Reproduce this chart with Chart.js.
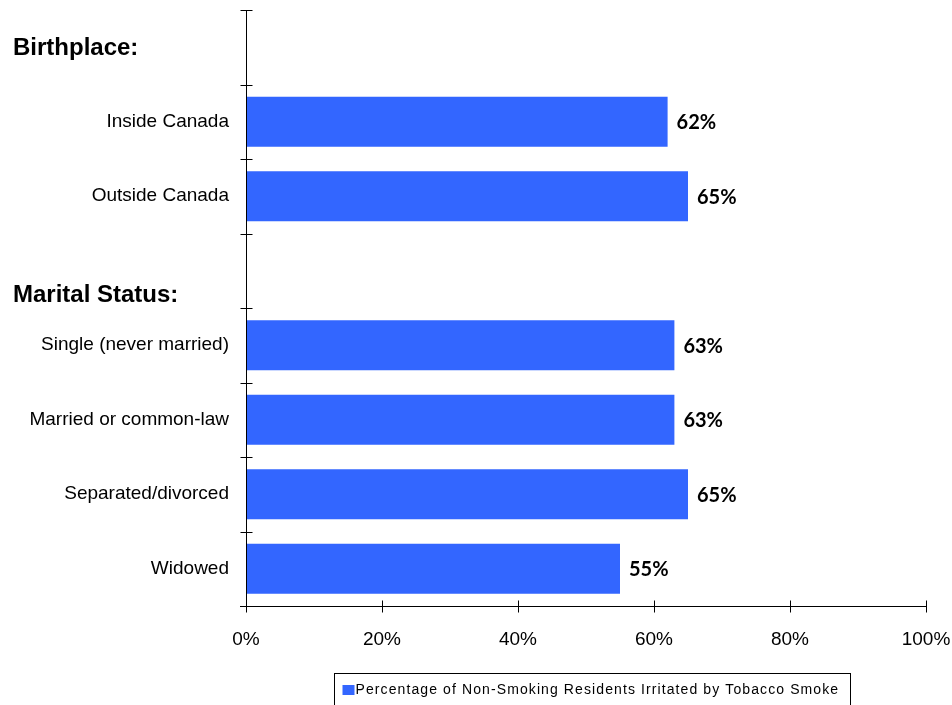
<!DOCTYPE html>
<html>
<head>
<meta charset="utf-8">
<title>Non-Smoking Residents Irritated by Tobacco Smoke</title>
<script src="https://cdn.jsdelivr.net/npm/chart.js@4/dist/chart.umd.min.js"></script>
<style>
  html, body { margin: 0; padding: 0; background: #ffffff; }
  #wrap { width: 952px; height: 705px; position: relative; }
</style>
</head>
<body>
<div id="wrap"><canvas id="chart"></canvas></div>
<script>
// Category rows, top to bottom; the two group headings occupy their own rows.
const categories = [
  'Birthplace:',
  'Inside Canada',
  'Outside Canada',
  'Marital Status:',
  'Single (never married)',
  'Married or common-law',
  'Separated/divorced',
  'Widowed'
];
const groupHeadings = ['Birthplace:', 'Marital Status:'];

// Percentage irritated, per row (headings carry no value).
const irritatedPct = [null, 62, 65, null, 63, 63, 65, 55];

// X-axis tick values (percent).
const xTicks = [0, 20, 40, 60, 80, 100];

const seriesLabel = 'Percentage of Non-Smoking Residents Irritated by Tobacco Smoke';
const barBlue = '#3366FF';

const TICK_FONT = 'Liberation Sans, Arial, sans-serif';

// Axis lines with tick marks that cross the axis.
const crossAxes = {
  id: 'crossAxes',
  afterDatasetsDraw(chart) {
    const { ctx, chartArea, scales } = chart;
    const x = scales.x, y = scales.y;
    const half = 6;
    ctx.save();
    ctx.strokeStyle = '#000';
    ctx.lineWidth = 1;
    ctx.beginPath();
    // vertical axis
    const ax = Math.round(chartArea.left) + 0.5;
    ctx.moveTo(ax, chartArea.top);
    ctx.lineTo(ax, chartArea.bottom + half);
    // horizontal axis
    const ay = Math.round(chartArea.bottom) + 0.5;
    ctx.moveTo(chartArea.left - half, ay);
    ctx.lineTo(chartArea.right, ay);
    // category boundary ticks
    const n = y.getLabels().length;
    const step = (y.bottom - y.top) / n;
    for (let i = 0; i <= n; i++) {
      const py = Math.round(y.top + i * step) + 0.5;
      ctx.moveTo(ax - half, py);
      ctx.lineTo(ax + half, py);
    }
    // value ticks
    x.ticks.forEach(t => {
      const px = Math.round(x.getPixelForValue(t.value)) + 0.5;
      ctx.moveTo(px, ay - half);
      ctx.lineTo(px, ay + half);
    });
    ctx.stroke();
    ctx.restore();
  }
};

// Bold group headings at the left edge.
const groupHeaders = {
  id: 'groupHeaders',
  afterDraw(chart, args, opts) {
    const { ctx, scales } = chart;
    const y = scales.y;
    ctx.save();
    ctx.fillStyle = '#000';
    ctx.font = 'bold 24px ' + TICK_FONT;
    ctx.textAlign = 'left';
    ctx.textBaseline = 'middle';
    let k = 0;
    categories.forEach((c, i) => {
      if (!groupHeadings.includes(c)) return;
      const nudge = (opts.nudge && opts.nudge[k]) || 0;
      ctx.fillText(c, opts.left, y.getPixelForValue(i) + nudge);
      k++;
    });
    ctx.restore();
  }
};

// Value labels at the end of each bar.
const valueLabels = {
  id: 'valueLabels',
  afterDatasetsDraw(chart) {
    const { ctx } = chart;
    const meta = chart.getDatasetMeta(0);
    const data = chart.data.datasets[0].data;
    ctx.save();
    ctx.fillStyle = '#000';
    ctx.font = 'bold 20px Lato, sans-serif';
    ctx.textAlign = 'left';
    ctx.textBaseline = 'middle';
    meta.data.forEach((bar, i) => {
      const v = data[i];
      if (v === null || v === undefined) return;
      ctx.fillText(v + '%', bar.x + 9, bar.y + 1);
    });
    ctx.restore();
  }
};

// Boxed legend under the axis.
const boxedLegend = {
  id: 'boxedLegend',
  afterDraw(chart) {
    const { ctx, chartArea } = chart;
    const ds = chart.data.datasets[0];
    ctx.save();
    ctx.font = '14px ' + TICK_FONT;
    ctx.letterSpacing = '1.1px';
    const tw = ctx.measureText(ds.label).width;
    const sw = 12, padL = 8, gap = 1, padR = 11;
    const w = padL + sw + gap + tw + padR;
    const cx = (chartArea.left + chartArea.right) / 2 + 6;
    const left = Math.round(cx - w / 2) + 0.5;
    const top = 673.5;
    ctx.strokeStyle = '#000';
    ctx.lineWidth = 1;
    ctx.strokeRect(left, top, Math.round(w), 40);
    ctx.fillStyle = ds.backgroundColor;
    ctx.fillRect(left + padL, top + 11.5, sw, 10);
    ctx.fillStyle = '#000';
    ctx.textAlign = 'left';
    ctx.textBaseline = 'middle';
    ctx.fillText(ds.label, left + padL + sw + gap, top + 17);
    ctx.restore();
  }
};

new Chart(document.getElementById('chart'), {
  type: 'bar',
  data: {
    labels: categories,
    datasets: [{
      label: seriesLabel,
      data: irritatedPct,
      backgroundColor: barBlue,
      borderWidth: 0,
      categoryPercentage: 1.0,
      barPercentage: 0.67
    }]
  },
  options: {
    indexAxis: 'y',
    responsive: true,
    maintainAspectRatio: false,
    animation: false,
    layout: { padding: { top: 10, right: 26, left: 0, bottom: 54 } },
    plugins: {
      legend: { display: false },
      tooltip: { enabled: false },
      groupHeaders: { left: 13, nudge: [1, 25] }
    },
    scales: {
      x: {
        type: 'linear',
        min: 0,
        max: 100,
        afterBuildTicks(scale) { scale.ticks = xTicks.map(v => ({ value: v })); },
        grid: { display: false, drawTicks: false },
        border: { display: false },
        ticks: {
          padding: 22,
          color: '#000',
          font: { family: TICK_FONT, size: 19 },
          callback: v => v + '%'
        },
        afterFit(scale) {
          scale.height = 45;
          scale.paddingLeft = 0;
          scale.paddingRight = 0;
        }
      },
      y: {
        type: 'category',
        offset: true,
        grid: { display: false, drawTicks: false },
        border: { display: false },
        ticks: {
          padding: 17,
          color: '#000',
          font: { family: TICK_FONT, size: 19 },
          autoSkip: false,
          callback(value) {
            const lbl = this.getLabelForValue(value);
            return groupHeadings.includes(lbl) ? '' : lbl;
          }
        },
        afterFit(scale) {
          scale.width = 246;
          scale.paddingTop = 0;
          scale.paddingBottom = 0;
        }
      }
    }
  },
  plugins: [crossAxes, valueLabels, groupHeaders, boxedLegend]
});
</script>
</body>
</html>
